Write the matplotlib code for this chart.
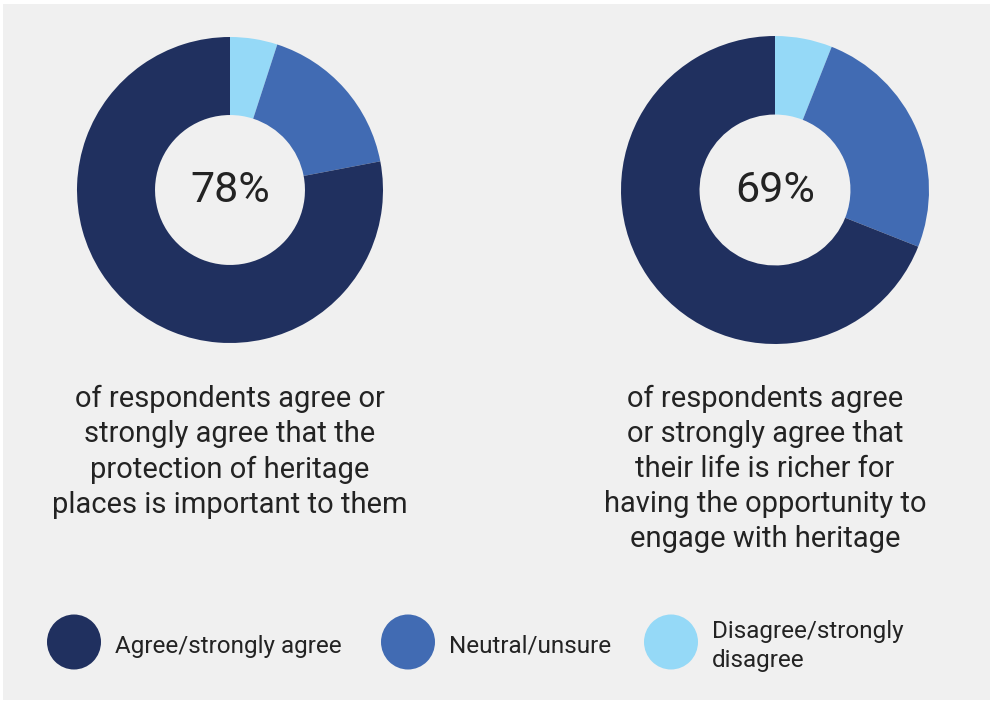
import matplotlib
matplotlib.use("Agg")
import matplotlib.pyplot as plt
from matplotlib.patches import Rectangle, Ellipse

# ---- data ----
categories = ["Agree/strongly agree", "Neutral/unsure", "Disagree/strongly\ndisagree"]
colors = ["#20305f", "#416bb3", "#95d9f7"]
left_values = [78, 17, 5]    # agree, neutral, disagree
right_values = [69, 25, 6]
left_label = "78%"
right_label = "69%"
left_text = "of respondents agree or\nstrongly agree that the\nprotection of heritage\nplaces is important to them"
right_text = "of respondents agree\nor strongly agree that\ntheir life is richer for\nhaving the opportunity to\nengage with heritage"

W, H = 994, 704
fig = plt.figure(figsize=(W / 100, H / 100), dpi=100)
fig.patch.set_facecolor("white")
ax = fig.add_axes([0, 0, 1, 1])
ax.set_xlim(0, W)
ax.set_ylim(0, H)
ax.set_aspect("equal")
ax.axis("off")

FONT = "Roboto"
TXT = "#232323"

def Y(py):
    return H - py

ax.add_patch(Rectangle((3, Y(700)), 987, 696, facecolor="#f0f0f0", edgecolor="none", zorder=0))

def donut(values, cx, cy, r, label):
    # clockwise from top: disagree, neutral, agree
    vals = values[::-1]
    cols = colors[::-1]
    ax.pie(vals, colors=cols, startangle=90, counterclock=False,
           center=(cx, Y(cy)), radius=r,
           wedgeprops=dict(width=r * 0.51, edgecolor="none"), frame=True)
    ax.text(cx, Y(cy), label, ha="center", va="center", fontsize=31,
            color=TXT, family=FONT)

donut(left_values, 230, 190, 153, left_label)
donut(right_values, 775, 190, 154, right_label)
ax.set_xlim(0, W)
ax.set_ylim(0, H)
ax.axis("off")

ax.text(230, Y(385), left_text, ha="center", va="top", fontsize=21,
        color=TXT, family=FONT, linespacing=1.32)
ax.text(765, Y(385), right_text, ha="center", va="top", fontsize=21,
        color=TXT, family=FONT, linespacing=1.32)

leg_x = [74, 408, 671]
for x, c, lab in zip(leg_x, colors, categories):
    ax.add_patch(Ellipse((x, Y(642)), 54, 55, facecolor=c, edgecolor="none"))
    ax.text(x + 41, Y(646), lab, ha="left", va="center", fontsize=17.5,
            color=TXT, family=FONT, linespacing=1.35)

fig.savefig("out.png", dpi=100, facecolor="white")
